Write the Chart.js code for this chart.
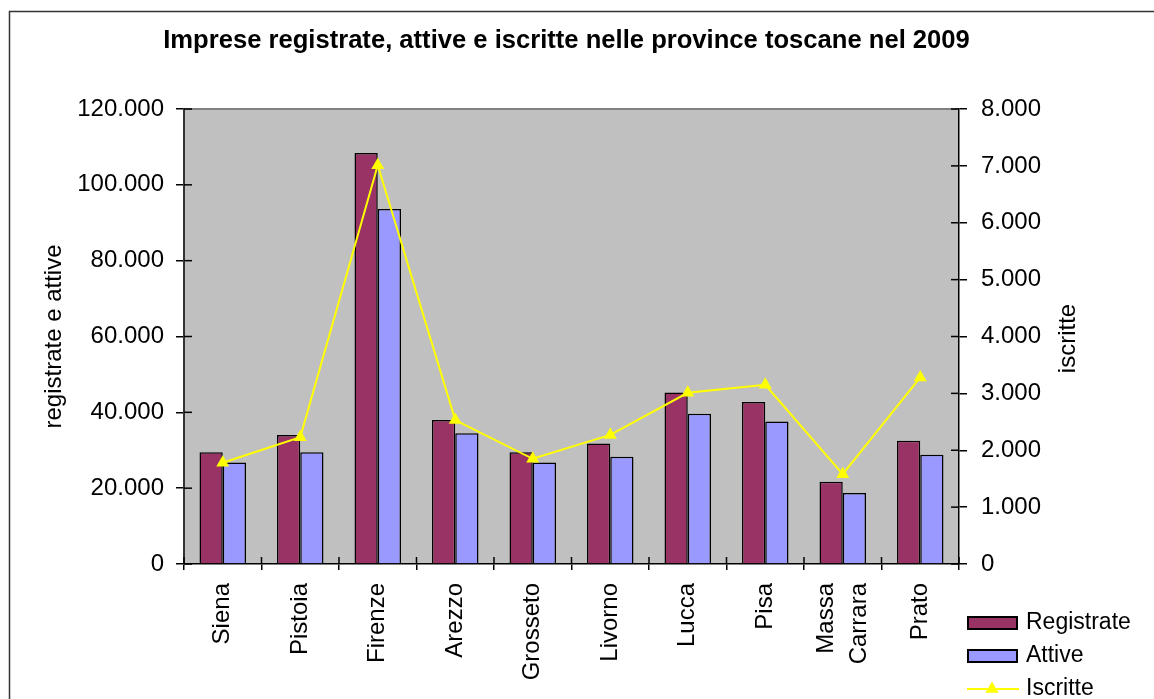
<!DOCTYPE html>
<html>
<head>
<meta charset="utf-8">
<script src="https://cdn.jsdelivr.net/npm/chart.js@4/dist/chart.umd.min.js"></script>
<style>
  body { margin: 0; background: #fff; }
  canvas { display: block; }
</style>
</head>
<body>
<canvas id="chart" width="1154" height="699"></canvas>
<script>
const categories = ['Siena', 'Pistoia', 'Firenze', 'Arezzo', 'Grosseto', 'Livorno', 'Lucca', 'Pisa', ['Massa', 'Carrara'], 'Prato'];
const registrate = [29500, 34000, 108400, 38000, 29500, 31800, 45200, 42700, 21700, 32500];
const attive = [26800, 29500, 93600, 34500, 26800, 28300, 39600, 37600, 18700, 28800];
const iscritte = [1780, 2230, 7010, 2530, 1850, 2270, 3010, 3150, 1580, 3280];

const FONT = '"Liberation Sans", Arial, sans-serif';
const TITLE = 'Imprese registrate, attive e iscritte nelle province toscane nel 2009';

// 120000 -> "120.000"
const fmt = v => String(v).replace(/\B(?=(\d{3})+(?!\d))/g, '.');

// gray plot area, chart frame, title, inner half of the tick marks, right title, legend
const excelLook = {
    id: 'excelLook',
    beforeDraw(chart) {
        const {ctx, chartArea: a} = chart;
        ctx.save();
        ctx.fillStyle = '#C0C0C0';
        ctx.fillRect(a.left, a.top, a.right - a.left, a.bottom - a.top);
        ctx.strokeStyle = '#808080';
        ctx.lineWidth = 2;
        ctx.beginPath();
        ctx.moveTo(a.left, a.top);
        ctx.lineTo(a.right, a.top);
        ctx.stroke();
        ctx.strokeStyle = '#333';
        ctx.lineWidth = 1.5;
        ctx.strokeRect(9.5, 11.5, 1300, 800);

        ctx.fillStyle = '#000';
        ctx.font = 'bold 25.6px ' + FONT;
        ctx.textAlign = 'center';
        ctx.textBaseline = 'middle';
        ctx.fillText(TITLE, (a.left + a.right) / 2 - 5, 41);
        ctx.restore();

        // centre the two-line category label on its tick (Chart.js stacks it to one side)
        chart.scales.x.getLabelItems().forEach(it => {
            if (Array.isArray(it.label) && !it._centred) {
                it.options.translation[0] -= (it.label.length - 1) * it.font.lineHeight / 2;
                it._centred = true;
            }
        });
    },
    afterDraw(chart) {
        const {ctx, chartArea: a, scales} = chart;
        ctx.save();
        ctx.strokeStyle = '#000';
        ctx.lineWidth = 1.5;
        scales.y.ticks.forEach(t => {
            const py = scales.y.getPixelForValue(t.value);
            ctx.beginPath(); ctx.moveTo(a.left, py); ctx.lineTo(a.left + 8, py); ctx.stroke();
        });
        scales.y1.ticks.forEach(t => {
            const py = scales.y1.getPixelForValue(t.value);
            ctx.beginPath(); ctx.moveTo(a.right - 8, py); ctx.lineTo(a.right, py); ctx.stroke();
        });
        const step = scales.x.getPixelForValue(1) - scales.x.getPixelForValue(0);
        for (let i = 0; i <= categories.length; i++) {
            const px = scales.x.getPixelForValue(i) - step / 2;
            ctx.beginPath(); ctx.moveTo(px, a.bottom - 7); ctx.lineTo(px, a.bottom); ctx.stroke();
        }

        // right axis title, reading upwards
        ctx.fillStyle = '#000';
        ctx.font = '24px ' + FONT;
        ctx.textAlign = 'center';
        ctx.textBaseline = 'middle';
        ctx.translate(1068, (a.top + a.bottom) / 2 + 2);
        ctx.rotate(-Math.PI / 2);
        ctx.fillText('iscritte', 0, 0);
        ctx.restore();

        // legend
        const ds = chart.data.datasets;
        ctx.save();
        ctx.font = '23px ' + FONT;
        ctx.textBaseline = 'middle';
        ctx.textAlign = 'left';
        const rows = [623, 656, 689];
        [0, 1].forEach(i => {
            ctx.fillStyle = ds[i].backgroundColor;
            ctx.fillRect(968, rows[i] - 6, 49, 12);
            ctx.strokeStyle = '#000';
            ctx.lineWidth = 2;
            ctx.strokeRect(968, rows[i] - 6, 49, 12);
            ctx.fillStyle = '#000';
            ctx.fillText(ds[i].label, 1026, rows[i]);
        });
        ctx.strokeStyle = ds[2].borderColor;
        ctx.lineWidth = 2;
        ctx.beginPath(); ctx.moveTo(967, rows[2]); ctx.lineTo(1019, rows[2]); ctx.stroke();
        ctx.fillStyle = ds[2].borderColor;
        Chart.helpers.drawPoint(ctx, {pointStyle: 'triangle', radius: 7.5, borderWidth: 0}, 992, rows[2]);
        ctx.fillStyle = '#000';
        ctx.fillText(ds[2].label, 1026, rows[2]);
        ctx.restore();
    }
};

new Chart(document.getElementById('chart'), {
    type: 'bar',
    data: {
        labels: categories,
        datasets: [{
            label: 'Registrate',
            data: registrate,
            backgroundColor: '#993366',
            borderColor: '#000',
            borderWidth: 1.5,
            yAxisID: 'y',
            order: 1
        }, {
            label: 'Attive',
            data: attive,
            backgroundColor: '#9999FF',
            borderColor: '#000',
            borderWidth: 1.5,
            yAxisID: 'y',
            order: 1
        }, {
            type: 'line',
            label: 'Iscritte',
            data: iscritte,
            borderColor: '#FFFF00',
            backgroundColor: '#FFFF00',
            borderWidth: 2,
            pointStyle: 'triangle',
            pointRadius: 7.5,
            pointBorderWidth: 0,
            tension: 0,
            yAxisID: 'y1',
            order: 0
        }]
    },
    options: {
        responsive: false,
        animation: false,
        devicePixelRatio: 1,
        layout: { padding: { top: 109, left: 0, right: 0, bottom: 0 } },
        datasets: {
            bar: { categoryPercentage: 0.6, barPercentage: 1.0 }
        },
        plugins: {
            legend: { display: false },
            tooltip: { enabled: false },
            title: { display: false }
        },
        scales: {
            x: {
                offset: true,
                grid: { offset: true, drawOnChartArea: false, drawTicks: true, tickLength: 6, color: '#000', lineWidth: 1.5 },
                border: { display: true, color: '#000', width: 1.5 },
                ticks: {
                    autoSkip: false,
                    minRotation: 90,
                    maxRotation: 90,
                    padding: 13,
                    color: '#000',
                    font: { family: FONT, size: 24, lineHeight: 1.38 }
                },
                afterFit(scale) { scale.height = 135; }
            },
            y: {
                position: 'left',
                min: 0,
                max: 120000,
                ticks: {
                    stepSize: 20000,
                    padding: 12,
                    color: '#000',
                    font: { family: FONT, size: 24 },
                    callback: v => fmt(v)
                },
                grid: { drawOnChartArea: false, drawTicks: true, tickLength: 8, color: '#000', lineWidth: 1.5 },
                border: { display: true, color: '#333', width: 2 },
                title: {
                    display: true,
                    text: 'registrate e attive',
                    color: '#000',
                    font: { family: FONT, size: 24, lineHeight: 1.2 },
                    padding: { top: 40, bottom: 0 }
                },
                afterFit(scale) { scale.width = 184; }
            },
            y1: {
                position: 'right',
                min: 0,
                max: 8000,
                ticks: {
                    stepSize: 1000,
                    padding: 14,
                    color: '#000',
                    font: { family: FONT, size: 24 },
                    callback: v => fmt(v)
                },
                grid: { drawOnChartArea: false, drawTicks: true, tickLength: 8, color: '#000', lineWidth: 1.5 },
                border: { display: true, color: '#000', width: 1.5 },
                afterFit(scale) { scale.width = 195; }
            }
        }
    },
    plugins: [excelLook]
});
</script>
</body>
</html>
